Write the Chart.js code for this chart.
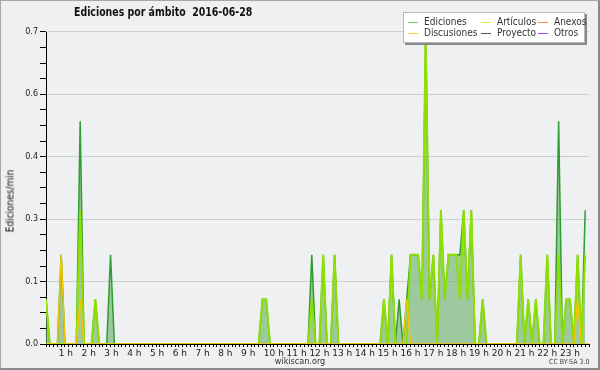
<!DOCTYPE html>
<html>
<head>
<meta charset="utf-8">
<script src="https://cdn.jsdelivr.net/npm/chart.js@4"></script>
<style>
  body { margin: 0; }
  #wrap { position: relative; width: 600px; height: 370px; background: #eff0f2; font-family: 'DejaVu Sans Condensed', 'DejaVu Sans', sans-serif; }
  #frame { position: absolute; left: 0; top: 0; width: 597px; height: 367px; border: 1px solid #a8a8a8; border-right: 2px solid #8a8a8a; border-bottom: 2px solid #8a8a8a; pointer-events: none; }
  #title { position: absolute; left: 74px; top: 5px; font-size: 12px; font-weight: bold; color: #111; white-space: pre; transform: scaleX(0.87); transform-origin: 0 0; }
  #ytitle { position: absolute; left: 10px; top: 201px; font-size: 10px; color: #111; transform: translate(-50%, -50%) rotate(-90deg); white-space: nowrap; }
  #legend { position: absolute; left: 403px; top: 12px; width: 180px; height: 29px; background: #fff; border: 1px solid #b8b8b8; box-shadow: 2px 2px 0 #888; font-size: 10px; color: #333; }
  .item { position: absolute; height: 11px; line-height: 11px; white-space: nowrap; padding-left: 16px; }
  .item i { position: absolute; left: 0; top: 6px; width: 10px; height: 1px; }
  #foot { position: absolute; left: 300px; top: 356px; font-size: 9px; color: #333; transform: translateX(-50%); }
  #cc { position: absolute; left: 549px; top: 358px; font-size: 7px; color: #444; }
</style>
</head>
<body>
<div id="wrap">
  <canvas id="chart" width="600" height="370"></canvas>
  <div id="title">Ediciones por ámbito  2016-06-28</div>
  <div id="ytitle">Ediciones/min</div>
  <div id="legend">
    <div class="item" style="left:4px;top:3px"><i style="background:#77cc77"></i>Ediciones</div>
    <div class="item" style="left:4px;top:14px"><i style="background:#ffcc33"></i>Discusiones</div>
    <div class="item" style="left:77px;top:3px"><i style="background:#ccff33"></i>Artículos</div>
    <div class="item" style="left:77px;top:14px"><i style="background:#555555"></i>Proyecto</div>
    <div class="item" style="left:134px;top:3px"><i style="background:#ff8844"></i>Anexos</div>
    <div class="item" style="left:134px;top:14px"><i style="background:#9944ff"></i>Otros</div>
  </div>
  <div id="foot">wikiscan.org</div>
  <div id="cc">CC BY-SA 3.0</div>
  <div id="frame"></div>
</div>
<script>
// 10-minute bins, 0h00 .. 23h50 (144 values each)
const bins = Array.from({ length: 144 }, (_, i) => i);

const ediciones = [
  0.1, 0, 0, 0, 0.2, 0, 0, 0, 0, 0.5, 0, 0, 0, 0.1, 0, 0, 0, 0.2, 0, 0, 0, 0, 0, 0,
  0, 0, 0, 0, 0, 0, 0, 0, 0, 0, 0, 0, 0, 0, 0, 0, 0, 0, 0, 0, 0, 0, 0, 0,
  0, 0, 0, 0, 0, 0, 0, 0, 0, 0.1, 0.1, 0, 0, 0, 0, 0, 0, 0, 0, 0, 0, 0, 0.2, 0,
  0, 0.2, 0, 0, 0.2, 0, 0, 0, 0, 0, 0, 0, 0, 0, 0, 0, 0, 0.1, 0, 0.2, 0, 0.1, 0,
  0.1, 0.2, 0.2, 0.2, 0.1, 0.7, 0.1, 0.2, 0, 0.3, 0.1, 0.2, 0.2, 0.2, 0.2, 0.3, 0.1, 0.3, 0, 0,
  0.1, 0, 0, 0, 0, 0, 0, 0, 0, 0, 0.2, 0, 0.1, 0, 0.1, 0, 0, 0.2, 0, 0, 0.5, 0, 0.1, 0.1,
  0, 0.2, 0, 0.3
];
const articulos = [
  0.1, 0, 0, 0, 0, 0, 0, 0, 0, 0.3, 0, 0, 0, 0.1, 0, 0, 0, 0, 0, 0, 0, 0, 0, 0,
  0, 0, 0, 0, 0, 0, 0, 0, 0, 0, 0, 0, 0, 0, 0, 0, 0, 0, 0, 0, 0, 0, 0, 0,
  0, 0, 0, 0, 0, 0, 0, 0, 0, 0.1, 0.1, 0, 0, 0, 0, 0, 0, 0, 0, 0, 0, 0, 0.1, 0,
  0, 0.2, 0, 0, 0.2, 0, 0, 0, 0, 0, 0, 0, 0, 0, 0, 0, 0, 0.1, 0, 0.2, 0, 0, 0,
  0, 0.2, 0.2, 0.2, 0.1, 0.7, 0.1, 0.2, 0, 0.3, 0.1, 0.2, 0.2, 0.2, 0.1, 0.3, 0.1, 0.3, 0, 0,
  0.1, 0, 0, 0, 0, 0, 0, 0, 0, 0, 0.2, 0, 0.1, 0, 0.1, 0, 0, 0.2, 0, 0, 0.2, 0, 0.1, 0.1,
  0, 0.2, 0, 0.2
];
const discusiones = [
  0, 0, 0, 0, 0.2, 0, 0, 0, 0, 0.1, 0, 0, 0, 0, 0, 0, 0, 0, 0, 0, 0, 0, 0, 0,
  0, 0, 0, 0, 0, 0, 0, 0, 0, 0, 0, 0, 0, 0, 0, 0, 0, 0, 0, 0, 0, 0, 0, 0,
  0, 0, 0, 0, 0, 0, 0, 0, 0, 0, 0, 0, 0, 0, 0, 0, 0, 0, 0, 0, 0, 0, 0, 0,
  0, 0, 0, 0, 0, 0, 0, 0, 0, 0, 0, 0, 0, 0, 0, 0, 0, 0, 0, 0, 0, 0, 0, 0.1,
  0, 0, 0, 0, 0, 0, 0, 0, 0, 0, 0, 0, 0, 0, 0, 0, 0, 0, 0, 0, 0, 0, 0, 0,
  0, 0, 0, 0, 0, 0, 0, 0, 0, 0, 0, 0, 0, 0, 0, 0, 0, 0, 0, 0, 0.1, 0, 0, 0,
  0, 0, 0, 0.1
];

// y axis: gridline every 0.14, minor tick every 0.035
const yMax = 0.7;
const yMinorStep = 0.035;

const pts = arr => arr.map((v, i) => ({ x: bins[i], y: v }));

new Chart(document.getElementById('chart'), {
  type: 'line',
  data: {
    datasets: [
      { label: 'Discusiones', data: pts(discusiones), borderColor: '#f4c400', borderWidth: 1.5, fill: false, order: 0 },
      { label: 'Artículos', data: pts(articulos), borderColor: '#8ee000', borderWidth: 2, fill: false, order: 1 },
      { label: 'Ediciones', data: pts(ediciones), borderColor: '#2e9e2e', borderWidth: 1.5,
        fill: 'origin', backgroundColor: 'rgba(104,175,104,0.6)', order: 2 }
    ]
  },
  options: {
    responsive: false,
    animation: false,
    layout: { padding: { top: 32, right: 11, left: 0, bottom: 0 } },
    elements: { point: { radius: 0 }, line: { tension: 0 } },
    datasets: { line: { clip: 0 } },
    plugins: { legend: { display: false }, title: { display: false }, tooltip: { enabled: false } },
    scales: {
      x: {
        type: 'linear', min: 0, max: 143, z: 1,
        afterBuildTicks: s => { s.ticks = bins.map(v => ({ value: v })); },
        afterFit: s => { s.height = 26; },
        border: { color: '#000' },
        grid: { color: 'transparent', tickColor: '#000', tickLength: 3, drawOnChartArea: false },
        ticks: {
          autoSkip: false, maxRotation: 0, minRotation: 0, align: 'start', labelOffset: -10, padding: 1,
          color: '#222', font: { family: 'DejaVu Sans', size: 9 },
          callback: v => (v > 0 && v % 6 === 0) ? (v / 6) + ' h' : ''
        }
      },
      y: {
        min: 0, max: yMax,
        afterBuildTicks: s => {
          s.ticks = [];
          for (let k = 0; k * yMinorStep <= yMax + 1e-9; k++) s.ticks.push({ value: k * yMinorStep });
        },
        afterFit: s => { s.width = 46; },
        border: { color: '#000' },
        grid: {
          color: c => (c.index > 0 && c.index % 4 === 0) ? '#cfcfcf' : 'transparent',
          tickColor: '#000', tickLength: 6
        },
        ticks: {
          autoSkip: false, padding: 2, color: '#222', font: { family: 'DejaVu Sans', size: 8 },
          callback: (v, i) => i % 4 === 0 ? v.toFixed(1) : ''
        }
      }
    }
  }
});
</script>
</body>
</html>
